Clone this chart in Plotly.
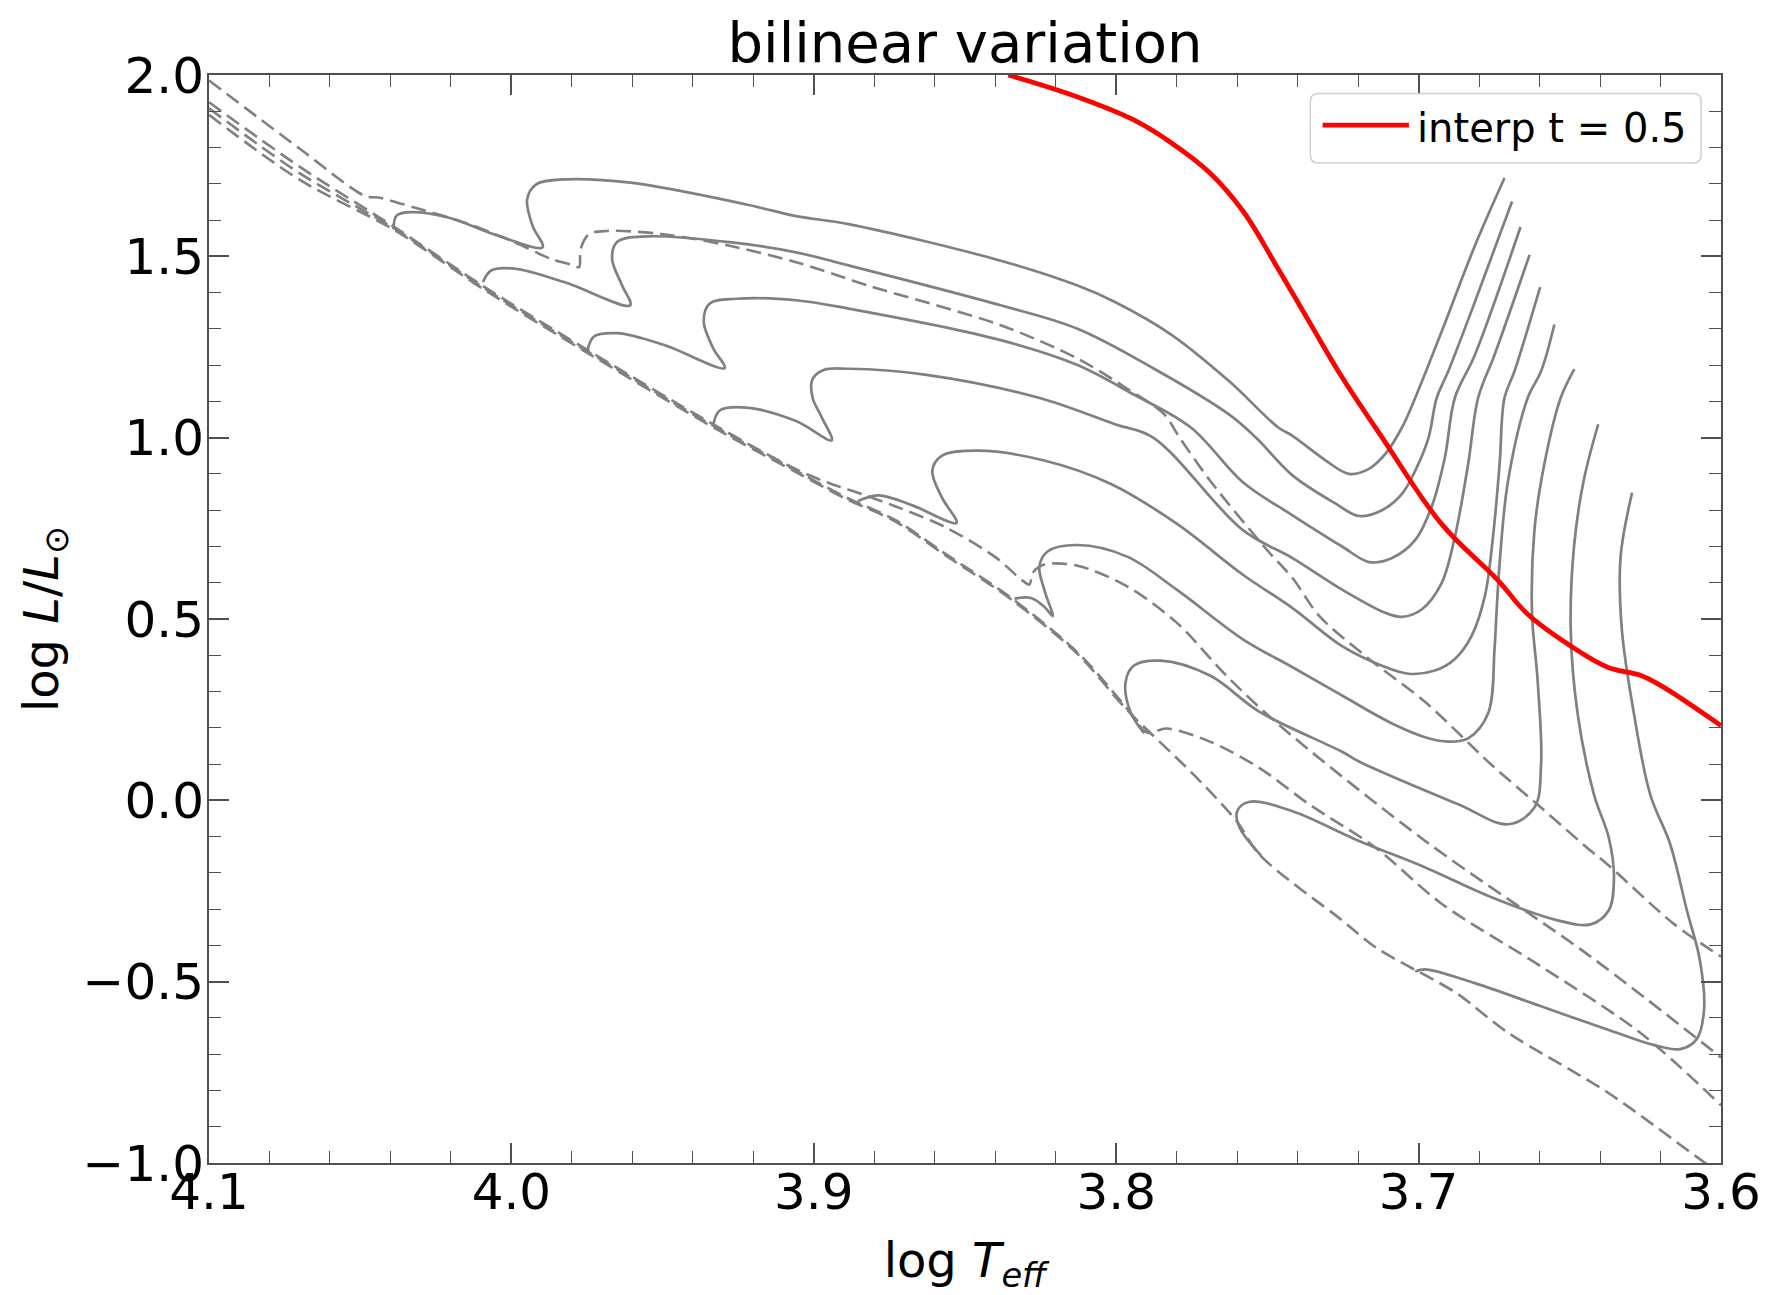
import plotly.graph_objects as go

# ---------------------------------------------------------------
# HR-diagram tracks: x = log Teff, y = log L/Lsun
# ---------------------------------------------------------------

# grid tracks (dashed)
grid1_logt = [4.1, 4.0702, 4.0483, 4.0439, 4.0318, 4.0154, 3.999, 3.9869, 3.9793, 3.9776, 3.9771,
              3.9744, 3.9683, 3.9497, 3.9278, 3.9059, 3.8822, 3.8382, 3.8130, 3.7967, 3.7841,
              3.7791, 3.769, 3.7502, 3.7417, 3.7328, 3.7164, 3.6978, 3.6759, 3.6595, 3.6431,
              3.6376, 3.6157, 3.6]
grid1_logl = [1.985, 1.798, 1.666, 1.662, 1.634, 1.593, 1.539, 1.493, 1.475, 1.470, 1.520,
              1.561, 1.570, 1.561, 1.529, 1.484, 1.420, 1.310, 1.219, 1.137, 1.064,
              1.001, 0.882, 0.691, 0.613, 0.508, 0.390, 0.271, 0.098, -0.020, -0.139,
              -0.176, -0.340, -0.431]

grid2_logt = [4.1, 4.0702, 4.0384, 4.0088, 3.9749, 3.9333, 3.9059, 3.8950, 3.884, 3.8731,
              3.8567, 3.8402, 3.8314, 3.8287, 3.8276, 3.8238, 3.8128, 3.7964, 3.78, 3.7636,
              3.746, 3.6978, 3.6431, 3.6]
grid2_logl = [1.925, 1.748, 1.579, 1.415, 1.242, 1.037, 0.913, 0.875, 0.844, 0.811,
              0.754, 0.672, 0.609, 0.595, 0.627, 0.650, 0.647, 0.590, 0.490, 0.344,
              0.207, -0.112, -0.431, -0.709]

grid3_logt = [4.1, 4.0702, 4.0384, 4.0088, 3.9749, 3.9333, 3.9059, 3.8895, 3.8731, 3.8567,
              3.8347, 3.8128, 3.7964, 3.7898, 3.7833, 3.769, 3.7526, 3.7362, 3.7143,
              3.6924, 3.6595, 3.6267, 3.6]
grid3_logl = [1.908, 1.730, 1.575, 1.411, 1.238, 1.033, 0.909, 0.836, 0.773, 0.681,
              0.558, 0.408, 0.253, 0.187, 0.198, 0.162, 0.089, -0.011, -0.130,
              -0.285, -0.458, -0.641, -0.841]

grid4_logt = [4.1, 4.0702, 4.0384, 4.0088, 3.9749, 3.9333, 3.9059, 3.8895, 3.8731, 3.8567,
              3.8347, 3.8128, 3.7964, 3.7744, 3.7602, 3.7526, 3.7253, 3.7143, 3.7033,
              3.6978, 3.6869, 3.6704, 3.6376, 3.6047, 3.598]
grid4_logl = [1.890, 1.712, 1.571, 1.407, 1.234, 1.029, 0.905, 0.832, 0.769, 0.677,
              0.554, 0.404, 0.249, 0.071, -0.057, -0.150, -0.331, -0.405, -0.458,
              -0.482, -0.535, -0.641, -0.805, -1.003, -1.04]

# interpolated tracks (solid)
trk1_logt = [4.039, 4.0379, 4.0329, 4.0209, 4.0045, 3.9897, 3.993, 3.9948, 3.9919, 3.9826,
             3.9607, 3.9223, 3.9059, 3.8885, 3.8382, 3.813, 3.8004, 3.7816, 3.7627, 3.7464,
             3.7417, 3.7307, 3.723, 3.7164, 3.711, 3.7055, 3.7011, 3.6924, 3.6814, 3.6716]
trk1_logl = [1.575, 1.613, 1.622, 1.607, 1.557, 1.525, 1.584, 1.657, 1.698, 1.712,
             1.703, 1.643, 1.611, 1.589, 1.488, 1.420, 1.374, 1.283, 1.156, 1.028,
             1.005, 0.937, 0.900, 0.914, 0.955, 1.028, 1.110, 1.292, 1.529, 1.716]

trk2_logt = [4.0094, 4.0067, 3.999, 3.9826, 3.9607, 3.9634, 3.9667, 3.965, 3.9551, 3.9278,
             3.9059, 3.8885, 3.8382, 3.813, 3.7879, 3.7627, 3.7539, 3.7417, 3.7274, 3.7197,
             3.7121, 3.7055, 3.7006, 3.6967, 3.694, 3.6902, 3.6814, 3.6691]
trk2_logl = [1.429, 1.461, 1.466, 1.429, 1.365, 1.420, 1.493, 1.540, 1.555, 1.539,
             1.511, 1.475, 1.365, 1.301, 1.192, 1.064, 1.001, 0.896, 0.818, 0.784,
             0.800, 0.845, 0.918, 1.0, 1.110, 1.183, 1.374, 1.651]

trk3_logt = [3.9749, 3.9727, 3.965, 3.9497, 3.9295, 3.9333, 3.9364, 3.9344, 3.9256, 3.9059,
             3.8885, 3.8382, 3.813, 3.7942, 3.7753, 3.7581, 3.7417, 3.7253, 3.7164, 3.7088,
             3.7011, 3.6957, 3.6913, 3.688, 3.6814, 3.6663]
trk3_logl = [1.238, 1.279, 1.288, 1.256, 1.192, 1.247, 1.320, 1.370, 1.383, 1.379,
             1.356, 1.269, 1.201, 1.119, 1.028, 0.877, 0.786, 0.700, 0.657, 0.668,
             0.718, 0.809, 0.946, 1.110, 1.228, 1.581]

trk4_logt = [3.9333, 3.9311, 3.9223, 3.9059, 3.8941, 3.8973, 3.9004, 3.9005, 3.8965, 3.8885,
             3.8633, 3.8256, 3.8004, 3.7879, 3.7581, 3.7417, 3.7253, 3.711, 3.7055, 3.6989,
             3.6924, 3.688, 3.6836, 3.6803, 3.6749, 3.6633]
trk4_logl = [1.033, 1.075, 1.083, 1.046, 0.993, 1.055, 1.110, 1.160, 1.187, 1.190,
             1.174, 1.110, 1.037, 1.001, 0.745, 0.668, 0.581, 0.517, 0.506, 0.527,
             0.599, 0.727, 0.928, 1.110, 1.228, 1.504]

trk5_logt = [3.8855, 3.8785, 3.8676, 3.8528, 3.8577, 3.8608, 3.8577, 3.8457, 3.8238, 3.8019,
             3.78, 3.7581, 3.7417, 3.7253, 3.7121, 3.7033, 3.6946, 3.688, 3.6825, 3.6781,
             3.6754, 3.6732, 3.6716, 3.6683, 3.6598]
trk5_logl = [0.825, 0.841, 0.814, 0.765, 0.836, 0.909, 0.950, 0.964, 0.937, 0.873,
             0.763, 0.622, 0.530, 0.425, 0.371, 0.349, 0.358, 0.390, 0.453, 0.563,
             0.727, 0.928, 1.110, 1.183, 1.415]

trk6_logt = [3.8336, 3.8282, 3.8238, 3.821, 3.8238, 3.8254, 3.8227, 3.8128, 3.7964, 3.78,
             3.7581, 3.7417, 3.7253, 3.7088, 3.6967, 3.6902, 3.6836, 3.677, 3.6749, 3.6743,
             3.6732, 3.6704, 3.6639, 3.6595, 3.6551]
trk6_logl = [0.556, 0.558, 0.534, 0.508, 0.581, 0.645, 0.686, 0.704, 0.672, 0.581,
             0.444, 0.367, 0.289, 0.212, 0.171, 0.162, 0.171, 0.240, 0.417, 0.508,
             0.654, 0.882, 1.110, 1.183, 1.312]

trk7_logt = [3.7908, 3.7953, 3.7969, 3.7942, 3.7854, 3.769, 3.7526, 3.7253, 3.7197, 3.6869,
             3.6704, 3.6617, 3.6595, 3.6606, 3.6625, 3.6617, 3.6584, 3.653, 3.6485]
trk7_logl = [0.185, 0.244, 0.326, 0.371, 0.385, 0.344, 0.244, 0.134, 0.107, -0.011,
             -0.066, -0.020, 0.098, 0.326, 0.517, 0.745, 0.928, 1.110, 1.189]

trk8_logt = [3.752, 3.7592, 3.76, 3.7559, 3.7417, 3.7197, 3.6978, 3.6759, 3.654, 3.6431,
             3.6371, 3.6354, 3.6371, 3.642, 3.6475, 3.6497, 3.6486, 3.6454, 3.6406]
trk8_logl = [-0.153, -0.075, -0.030, -0.004, -0.030, -0.112, -0.185, -0.267, -0.331, -0.342,
             -0.303, -0.212, -0.103, 0.016, 0.244, 0.472, 0.700, 0.882, 1.037]

trk9_logt = [3.7011, 3.6978, 3.6814, 3.6595, 3.6376, 3.6212, 3.6135, 3.6081, 3.6056, 3.607,
             3.6113, 3.6168, 3.6234, 3.6289, 3.6328, 3.6332, 3.6294]
trk9_logl = [-0.472, -0.466, -0.504, -0.568, -0.632, -0.677, -0.686, -0.659, -0.577, -0.440,
             -0.303, -0.121, 0.016, 0.244, 0.472, 0.672, 0.848]

# interpolated result at t = 0.5
interp_logt = [3.8357, 3.813, 3.7942, 3.7816, 3.769, 3.7581, 3.7471, 3.7362, 3.7252, 3.7121,
               3.6925, 3.6739, 3.6639, 3.6498, 3.6375, 3.6267, 3.62, 3.6]
interp_logl = [2.0, 1.940, 1.876, 1.812, 1.730, 1.625, 1.475, 1.320, 1.165, 1.001,
               0.763, 0.608, 0.513, 0.426, 0.367, 0.345, 0.317, 0.206]
interp_label = "interp t = 0.5"

x_ticks = [4.1, 4.0, 3.9, 3.8, 3.7, 3.6]
y_ticks = [2.0, 1.5, 1.0, 0.5, 0.0, -0.5, -1.0]

# ---------------------------------------------------------------
GRAY = "#808080"
AXIS = "#505050"
FONT = "DejaVu Sans"

fig = go.Figure()

grid_tracks = [(grid1_logt, grid1_logl), (grid2_logt, grid2_logl),
               (grid3_logt, grid3_logl), (grid4_logt, grid4_logl)]
for xs, ys in grid_tracks:
    fig.add_trace(go.Scatter(
        x=xs, y=ys, mode="lines", showlegend=False, hoverinfo="skip",
        line=dict(color=GRAY, width=2.6, dash="15px,7px", shape="spline", smoothing=0.9)))

solid_tracks = [(trk1_logt, trk1_logl), (trk2_logt, trk2_logl), (trk3_logt, trk3_logl),
                (trk4_logt, trk4_logl), (trk5_logt, trk5_logl), (trk6_logt, trk6_logl),
                (trk7_logt, trk7_logl), (trk8_logt, trk8_logl), (trk9_logt, trk9_logl)]
for xs, ys in solid_tracks:
    fig.add_trace(go.Scatter(
        x=xs, y=ys, mode="lines", showlegend=False, hoverinfo="skip",
        line=dict(color=GRAY, width=2.7, shape="spline", smoothing=1.0)))

fig.add_trace(go.Scatter(
    x=interp_logt, y=interp_logl, mode="lines", name=interp_label, showlegend=False,
    line=dict(color="#ff0000", width=4.8, shape="spline", smoothing=1.1)))

axis_common = dict(
    showgrid=False, zeroline=False, showline=True, linecolor=AXIS, linewidth=2,
    mirror="allticks", ticks="inside", ticklen=20, tickwidth=1.6, tickcolor=AXIS,
    tickfont=dict(family=FONT, size=50, color="black"), ticklabeloverflow="allow",
)

fig.update_xaxes(
    range=[4.1, 3.6], tickvals=x_ticks, tickformat=".1f", ticklabelstandoff=-16,
    minor=dict(dtick=0.02, tick0=3.6, ticks="inside", ticklen=12, tickwidth=1.4, tickcolor=AXIS),
    title=dict(text="log <i>T</i><sub><i>eff</i></sub>", font=dict(family=FONT, size=48), standoff=28),
    **axis_common)

fig.update_yaxes(
    range=[-1.0, 2.0], tickvals=y_ticks, tickformat=".1f", ticklabelstandoff=-7,
    minor=dict(dtick=0.1, tick0=0, ticks="inside", ticklen=12, tickwidth=1.4, tickcolor=AXIS),
    title=dict(text="log <i>L</i>/<i>L</i><sub>⊙</sub>", font=dict(family=FONT, size=48), standoff=9),
    **axis_common)

# legend box drawn in paper coordinates (rounded frame, line sample, label)
bx0, bx1, by0, by1 = 0.7284, 0.9868, 0.9191, 0.983
rx, ry = 8 / 1525.0, 8 / 1097.0
frame = (f"M {bx0 + rx},{by1} L {bx1 - rx},{by1} Q {bx1},{by1} {bx1},{by1 - ry} "
         f"L {bx1},{by0 + ry} Q {bx1},{by0} {bx1 - rx},{by0} "
         f"L {bx0 + rx},{by0} Q {bx0},{by0} {bx0},{by0 + ry} "
         f"L {bx0},{by1 - ry} Q {bx0},{by1} {bx0 + rx},{by1} Z")
fig.add_shape(type="path", path=frame, xref="paper", yref="paper",
              line=dict(color="#d0d0d0", width=1.5), fillcolor="rgba(255,255,255,0.85)", layer="above")
fig.add_shape(type="line", xref="paper", yref="paper", x0=0.7365, x1=0.7936, y0=0.954, y1=0.954,
              line=dict(color="#ff0000", width=4.8), layer="above")
fig.add_annotation(text=interp_label, xref="paper", yref="paper", x=0.7976, y=0.951,
                   xanchor="left", yanchor="middle", showarrow=False,
                   font=dict(family=FONT, size=40, color="black"))

fig.update_layout(
    width=1773, height=1295, autosize=False,
    margin=dict(l=209, r=39, t=75, b=124),
    paper_bgcolor="white", plot_bgcolor="white",
    font=dict(family=FONT, color="black"),
    showlegend=False,
    title=dict(text="bilinear variation", x=0.5, xref="paper", xanchor="center",
               y=1 - 42 / 1295, yref="container", yanchor="middle",
               font=dict(family=FONT, size=56, color="black")),
)

fig.write_html("out.html", post_script="document.body.style.margin='0';")
